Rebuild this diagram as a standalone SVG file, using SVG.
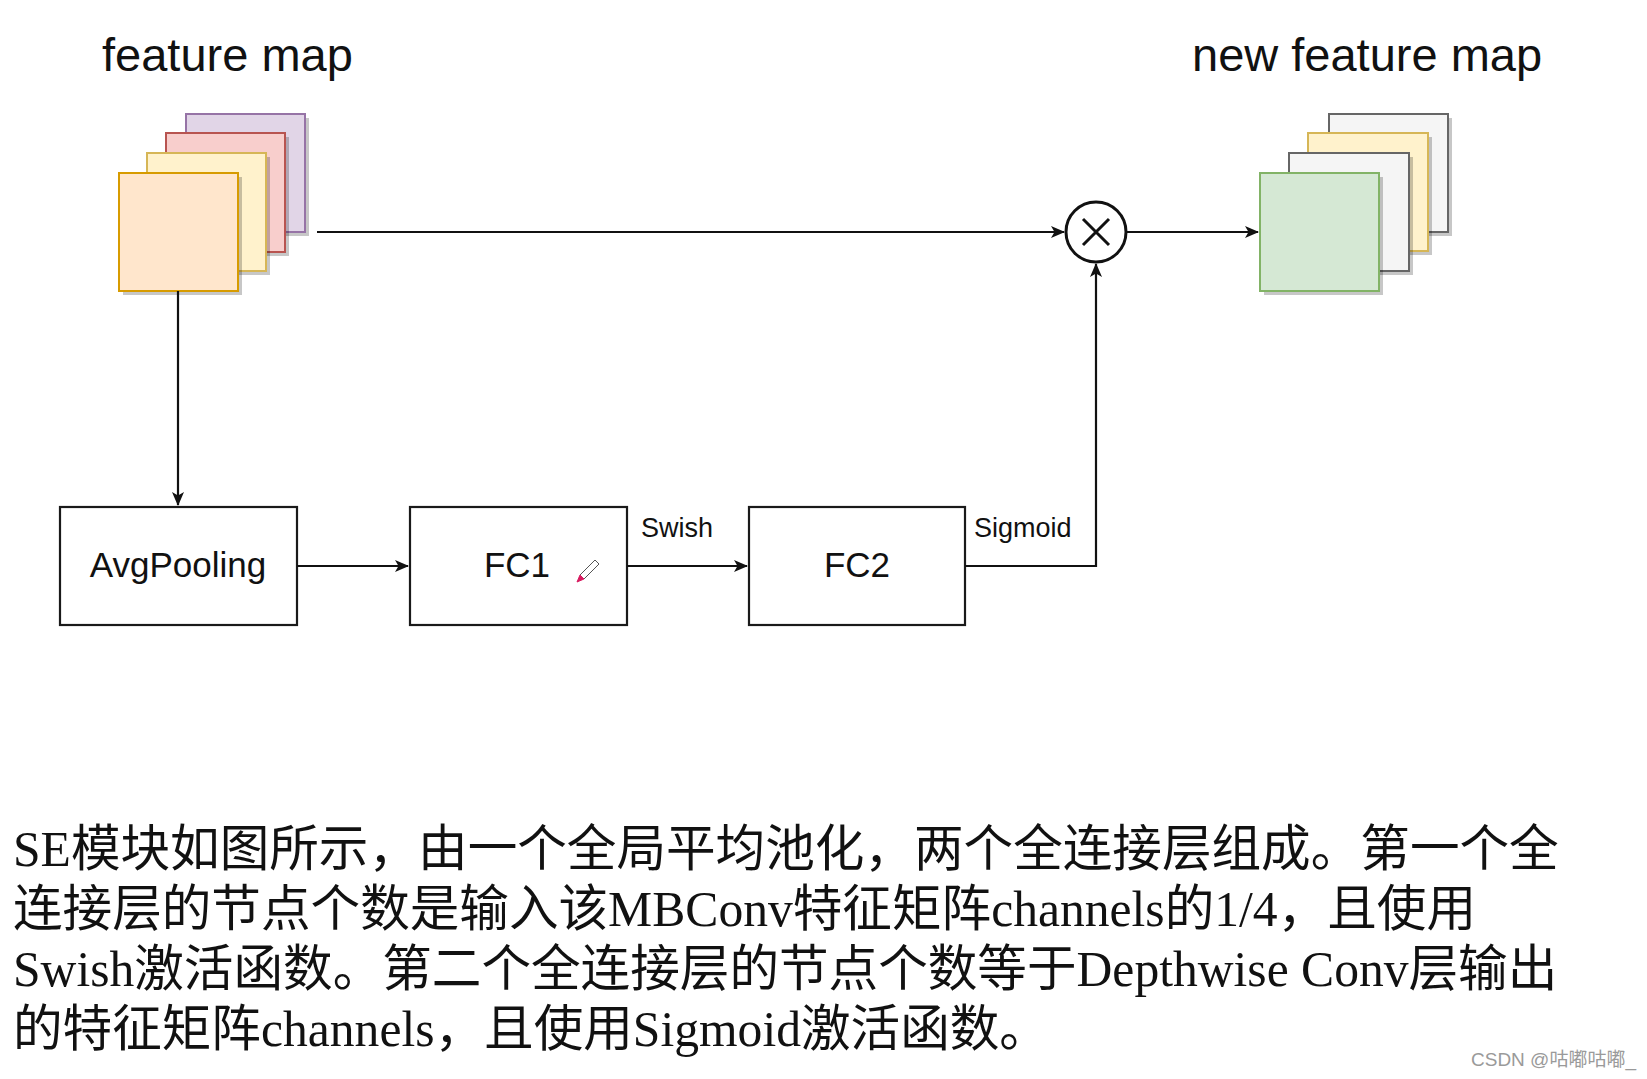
<svg xmlns="http://www.w3.org/2000/svg" width="1647" height="1079" viewBox="0 0 1647 1079">
<style>
.lbl{font-family:"Liberation Sans",Arial,sans-serif;fill:#111}
.title{font-size:47px}
.box{fill:#fff;stroke:#1a1a1a;stroke-width:2.2}
.boxtxt{font-size:35px;text-anchor:middle}
.edge{font-size:27px}
.conn{fill:none;stroke:#111;stroke-width:2.2}
.sh{fill:#000;opacity:0.22}
.para{font-family:"Liberation Serif","Noto Sans CJK SC",serif;font-size:49.6px;fill:#111}
.wm{font-family:"Liberation Sans","Noto Sans CJK SC",sans-serif;font-size:19px;fill:#9a9a9a}
</style>
<defs>
<marker id="arr" viewBox="0 0 14 12" refX="13" refY="6" markerWidth="14" markerHeight="12" markerUnits="userSpaceOnUse" orient="auto">
<path d="M0,0 L14,6 L0,12 L3.5,6 Z" fill="#111"/>
</marker>
</defs>
<rect width="1647" height="1079" fill="#fff"/>

<g id="title-left"><text class="lbl title" x="102" y="71">feature map</text></g>
<g id="title-right"><text class="lbl title" x="1192" y="71">new feature map</text></g>

<g id="feature-map">
<rect class="sh" x="190" y="118" width="119" height="118"/>
<rect x="186" y="114" width="119" height="118" fill="#e1d5e7" stroke="#9673a6" stroke-width="2"/>
<rect class="sh" x="170" y="137" width="119" height="119"/>
<rect x="166" y="133" width="119" height="119" fill="#f8cecc" stroke="#b85450" stroke-width="2"/>
<rect class="sh" x="151" y="157" width="119" height="118"/>
<rect x="147" y="153" width="119" height="118" fill="#fff2cc" stroke="#d6b656" stroke-width="2"/>
<rect class="sh" x="123" y="177" width="119" height="118"/>
<rect x="119" y="173" width="119" height="118" fill="#ffe6cc" stroke="#d79b00" stroke-width="2"/>
</g>

<g id="new-feature-map">
<rect class="sh" x="1333" y="118" width="119" height="118"/>
<rect x="1329" y="114" width="119" height="118" fill="#f5f5f5" stroke="#666" stroke-width="2"/>
<rect class="sh" x="1312" y="137" width="120" height="118"/>
<rect x="1308" y="133" width="120" height="118" fill="#fff2cc" stroke="#d6b656" stroke-width="2"/>
<rect class="sh" x="1293" y="157" width="120" height="118"/>
<rect x="1289" y="153" width="120" height="118" fill="#f5f5f5" stroke="#666" stroke-width="2"/>
<rect class="sh" x="1264" y="177" width="119" height="118"/>
<rect x="1260" y="173" width="119" height="118" fill="#d5e8d4" stroke="#82b366" stroke-width="2"/>
</g>

<g id="multiply">
<circle cx="1096" cy="232" r="30" fill="#fff" stroke="#111" stroke-width="3"/>
<path d="M1083,219 L1109,245 M1109,219 L1083,245" stroke="#111" stroke-width="3"/>
</g>

<g id="avgpool">
<rect class="box" x="60" y="507" width="237" height="118"/>
<text class="lbl boxtxt" x="178" y="577">AvgPooling</text>
</g>
<g id="fc1">
<rect class="box" x="410" y="507" width="217" height="118"/>
<text class="lbl boxtxt" x="517" y="577">FC1</text>
<g id="pencil-cursor">
<path d="M595,560 L599,564 L584,579 L580,575 Z" fill="#fff" stroke="#555" stroke-width="1"/>
<path d="M580,575 L584,579 L577,582 Z" fill="#d81b60" stroke="#d81b60" stroke-width="1"/>
</g>
</g>
<g id="fc2">
<rect class="box" x="749" y="507" width="216" height="118"/>
<text class="lbl boxtxt" x="857" y="577">FC2</text>
</g>

<g id="connectors">
<path class="conn" d="M317,232 L1064,232" marker-end="url(#arr)"/>
<path class="conn" d="M1127,232 L1258,232" marker-end="url(#arr)"/>
<path class="conn" d="M178,291 L178,505" marker-end="url(#arr)"/>
<path class="conn" d="M297,566 L408,566" marker-end="url(#arr)"/>
<path class="conn" d="M627,566 L747,566" marker-end="url(#arr)"/>
<path class="conn" d="M965,566 L1096,566 L1096,264" marker-end="url(#arr)"/>
<text class="lbl edge" x="641" y="537">Swish</text>
<text class="lbl edge" x="974" y="537">Sigmoid</text>
</g>

<g id="paragraph">
<text class="para" x="13" y="866">SE模块如图所示，由一个全局平均池化，两个全连接层组成。第一个全</text>
<text class="para" x="13" y="926">连接层的节点个数是输入该MBConv特征矩阵channels的1/4，且使用</text>
<text class="para" x="13" y="986">Swish激活函数。第二个全连接层的节点个数等于Depthwise Conv层输出</text>
<text class="para" x="13" y="1046">的特征矩阵channels，且使用Sigmoid激活函数。</text>
</g>

<g id="watermark"><text class="wm" x="1471" y="1066">CSDN @咕嘟咕嘟_</text></g>
</svg>
